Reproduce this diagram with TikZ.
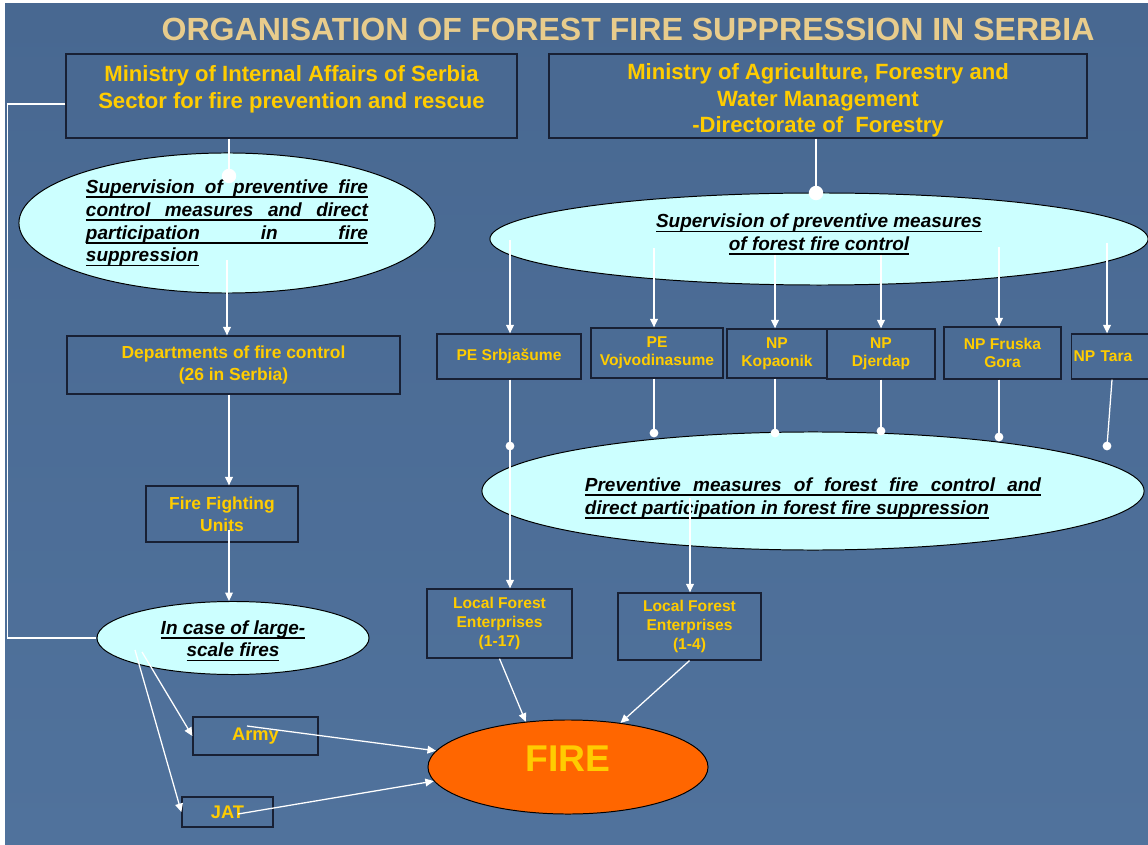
\documentclass[tikz,border=0pt]{standalone}
\usepackage{fontspec}
\setmainfont{Liberation Sans}
\usepackage{xcolor}
\definecolor{fsbluetop}{RGB}{72,104,145}
\definecolor{fsbluemid}{RGB}{88,122,163}
\definecolor{fsbluebot}{RGB}{80,114,156}
\definecolor{fsyellow}{RGB}{255,204,0}
\definecolor{fstan}{RGB}{232,204,140}
\definecolor{fscyan}{RGB}{204,255,255}
\definecolor{fsorange}{RGB}{255,102,0}
\definecolor{fsline}{RGB}{24,32,52}
\usepackage{tikz}
\usetikzlibrary{shapes.geometric,arrows.meta}
\newsavebox{\ulbox}
\newcommand{\ulfix}[1]{\sbox{\ulbox}{#1}\usebox{\ulbox}\llap{\rule[-3.2pt]{\wd\ulbox}{1.1pt}}}
\newcommand{\ulfull}[2]{\ulfix{\makebox[#1][s]{#2}}}
\tikzset{
  headbox/.style={draw=fsline, line width=0.9pt, text=fsyellow, align=center, minimum height=2.1cm, font=\fontsize{15.7}{18.8}\selectfont\bfseries},
  unitbox/.style={draw=fsline, line width=0.9pt, text=fsyellow, align=center, inner sep=1pt, font=\fontsize{12.4}{15.6}\selectfont\bfseries},
  orgbox/.style={draw=fsline, line width=0.9pt, text=fsyellow, align=center, inner sep=1pt, font=\fontsize{11.1}{12.8}\selectfont\bfseries},
  oval/.style={draw=black, ellipse, fill=fscyan, line width=0.7pt, inner sep=0pt, text=black, font=\fontsize{13.5}{16.2}\selectfont\bfseries\itshape},
  wire/.style={draw=white, line width=0.9pt},
  arr/.style={wire, -{Triangle[length=6pt,width=5.5pt]}}
}

\begin{document}
\begin{tikzpicture}[x=0.025cm, y=-0.025cm]
  \useasboundingbox (0,0) rectangle (1148,845);
  \fill[white] (0,0) rectangle (1148,845);
  \shade[top color=fsbluetop, middle color=fsbluemid, bottom color=fsbluebot] (5,4) rectangle (1148,845);
  \node[text=fstan, font=\fontsize{22.8}{26}\selectfont\bfseries] (title) at (628,29) {ORGANISATION OF FOREST FIRE SUPPRESSION IN SERBIA};
  % ministries
  \node[headbox, minimum width=11.275cm] (mia) at (291.5,96) {Ministry of Internal Affairs of Serbia\\Sector for fire prevention and rescue\\[-6pt]\mbox{}};
  \node[headbox, inner ysep=0pt, minimum width=13.45cm] (maf) at (818,96) {\rule{0pt}{18pt}Ministry of Agriculture, Forestry and\\Water Management\\-Directorate of \ Forestry};
  % fire service side
  \node[oval, align=left, minimum width=10.4cm, minimum height=3.5cm] (supfire) at (227,223) {\ulfull{7.05cm}{Supervision of preventive fire}\\\ulfull{7.05cm}{control measures and direct}\\\ulfull{7.05cm}{participation in fire}\\\ulfix{suppression}};
  \node[unitbox, minimum width=8.325cm, minimum height=1.45cm] (dept) at (233.5,365) {Departments of fire control\\(26 in Serbia)};
  \node[unitbox, minimum width=3.8cm, minimum height=1.4cm] (units) at (222,514) {Fire Fighting\\Units};
  \node[oval, align=center, minimum width=6.8cm, minimum height=1.825cm] (large) at (233,638) {\rule{0pt}{14pt}\ulfix{In case of large-}\\\ulfix{scale fires}};
  \node[unitbox, font=\fontsize{13}{15}\selectfont\bfseries, minimum width=3.125cm, minimum height=0.95cm] (army) at (255.5,736) {Army};
  \node[unitbox, font=\fontsize{13}{15}\selectfont\bfseries, minimum width=2.275cm, minimum height=0.75cm] (jat) at (227.5,812) {JAT};
  % forestry side
  \node[oval, align=center, minimum width=16.45cm, minimum height=2.3cm] (supforest) at (819,239) {\ulfix{Supervision of preventive measures}\\\ulfix{of forest fire control}\\[-6.5pt]\mbox{}};
  \node[orgbox, minimum width=3.6cm, minimum height=1.125cm] (srb) at (509,356.5) {PE Srbjašume};
  \node[orgbox, minimum width=3.3cm, minimum height=1.25cm] (voj) at (657,353) {PE\\Vojvodinasume};
  \node[orgbox, minimum width=2.5cm, minimum height=1.225cm] (kop) at (777,353.5) {NP\\Kopaonik};
  \node[orgbox, minimum width=2.7cm, minimum height=1.25cm] (dje) at (881,354) {NP\\Djerdap};
  \node[orgbox, minimum width=2.925cm, minimum height=1.3cm] (fru) at (1002.5,353) {NP Fruska\\Gora};
  \node[orgbox, anchor=west, align=left, text width=2.1cm, inner xsep=0.05cm, minimum height=1.125cm] (tara) at (1071,356.5) {NP Tara};
  \node[oval, align=left, minimum width=16.55cm, minimum height=2.95cm] (prevent) at (813,491) {\rule{0pt}{20pt}\ulfull{11.4cm}{Preventive measures of forest fire control and}\\\ulfix{direct participation in forest fire suppression}};
  \node[unitbox, font=\fontsize{11.1}{13.5}\selectfont\bfseries, minimum width=3.625cm, minimum height=1.725cm] (lfe17) at (499.5,623.5) {Local Forest\\Enterprises\\(1-17)};
  \node[unitbox, font=\fontsize{11.1}{13.5}\selectfont\bfseries, minimum width=3.575cm, minimum height=1.675cm] (lfe4) at (689.5,626.5) {Local Forest\\Enterprises\\(1-4)};
  \node[oval, fill=fsorange, text=fsyellow, font=\fontsize{26.5}{30}\selectfont\bfseries, text depth=11.4pt, minimum width=7cm, minimum height=2.35cm] (fire) at (568,767) {FIRE};

  % connectors, fire service
  \coordinate (dotmia) at (229,176);
  \coordinate (supout) at (227,260);
  \coordinate (colL) at (229,0);
  \coordinate (unitsout) at (229,530);
  \draw[wire] (mia.south -| dotmia) -- (dotmia);
  \fill[white] (dotmia) circle (0.18cm);
  \draw[arr] (supout) -- (supout |- dept.north);
  \draw[arr] (dept.south -| colL) -- (units.north -| colL);
  \draw[arr] (unitsout) -- (unitsout |- large.north);
  \draw[wire] ([yshift=-0.2cm]mia.west) -- ++(-58,0) |- (large.west);
  \coordinate (largea) at (142,652);
  \coordinate (largeb) at (135,650);
  \coordinate (armyout) at (247,726);
  \coordinate (jatout) at (238,814);
  \draw[arr] (largea) -- (army.west);
  \draw[arr] (largeb) -- (jat.west);
  \draw[arr] (armyout) -- (fire.173);
  \draw[arr] (jatout) -- (fire.186);

  % connectors, forestry
  \coordinate (dotmaf) at (816,193);
  \draw[wire] (maf.south -| dotmaf) -- (dotmaf);
  \fill[white] (dotmaf) circle (0.18cm);
  \foreach \b/\ys/\dx/\dy/\sx in {srb/240/510/446/0, voj/248/654/433/0, kop/255/775/433/0, dje/255/881/431/0, fru/247/999/437/0, tara/243/1107/446/5}{
    \coordinate (s\b) at (\dx,\ys);
    \coordinate (d\b) at (\dx,\dy);
    \draw[arr] (s\b) -- (\b.north -| d\b);
    \draw[wire] (\b.south -| d\b) ++(\sx,0) -- (d\b);
    \fill[white] (d\b) circle (0.11cm);
  }
  \coordinate (prevout) at (690,498);
  \draw[arr] (dsrb) -- (dsrb |- lfe17.north);
  \draw[arr] (prevout) -- (prevout |- lfe4.north);
  \draw[arr] (lfe17.south) -- (fire.133);
  \draw[arr] (lfe4.south) -- (fire.40);
\end{tikzpicture}
\end{document}
